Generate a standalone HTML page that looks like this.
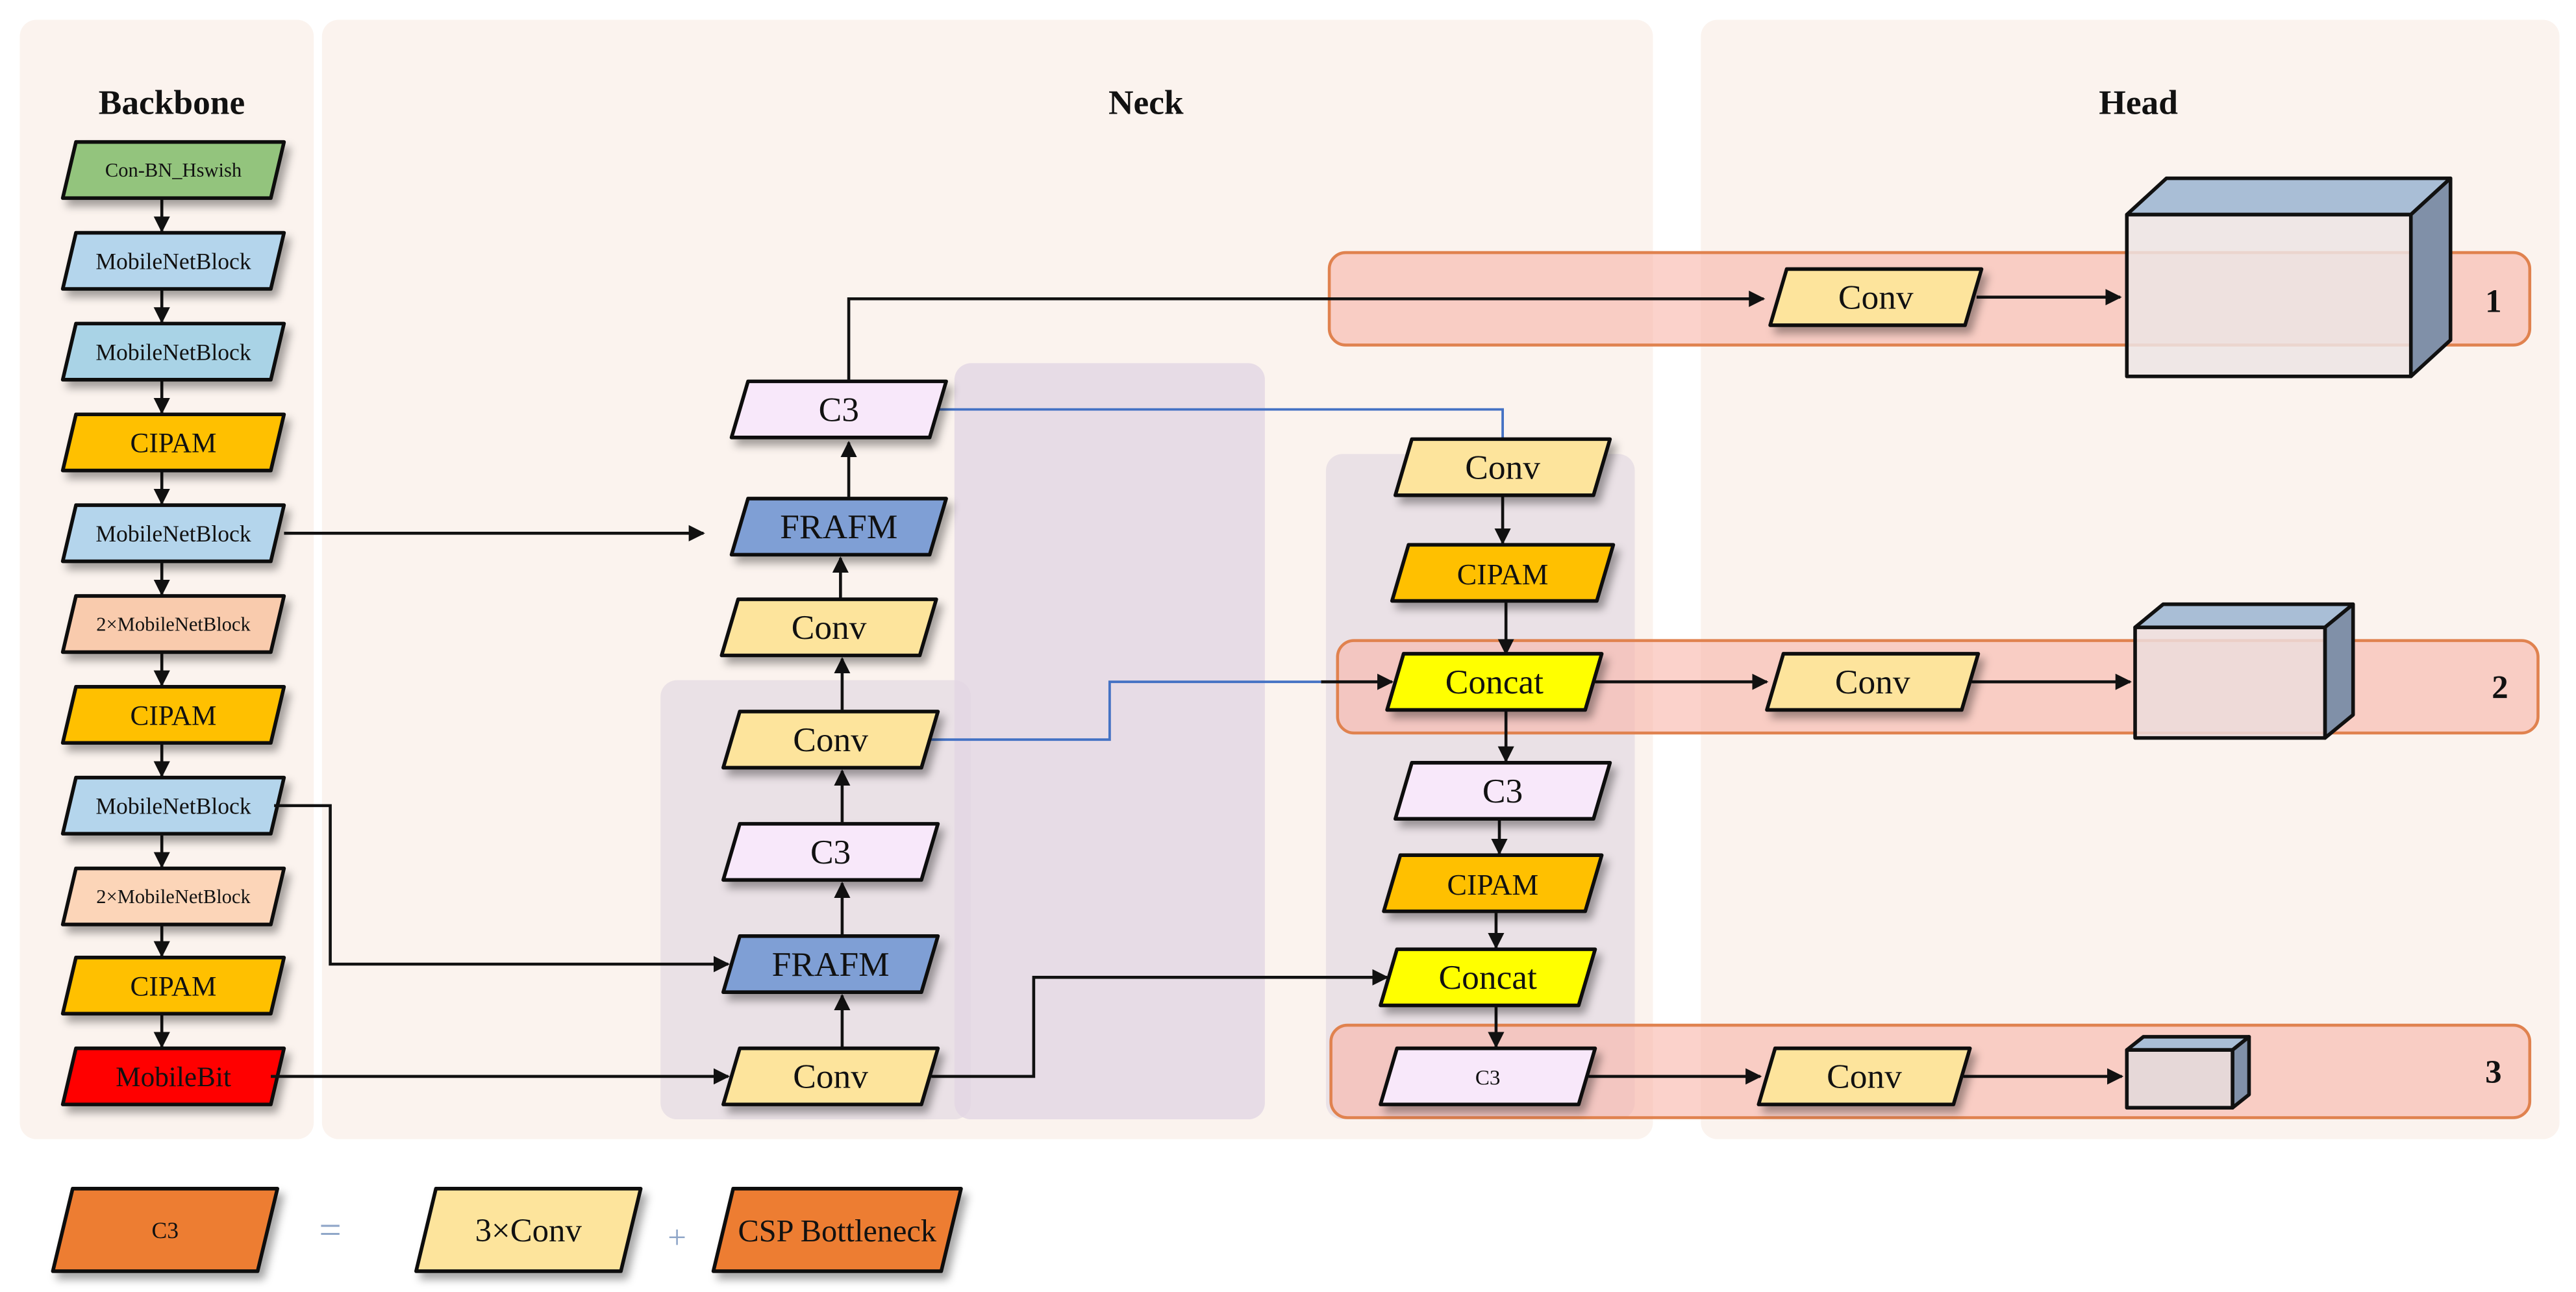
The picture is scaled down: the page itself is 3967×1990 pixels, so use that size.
<!DOCTYPE html>
<html><head><meta charset="utf-8"><style>
html,body{margin:0;padding:0;background:#fff}
svg{display:block}
svg text{font-family:"Liberation Serif",serif;fill:#111;text-anchor:middle}
.b{stroke:#111;stroke-width:2.2;stroke-linejoin:round}
.ln{stroke:#111;stroke-width:1.8;fill:none}
.bl{stroke:#4472c4;stroke-width:1.5;fill:none}
</style></head><body>
<svg width="3967" height="1990" viewBox="0 0 1560 782.6" preserveAspectRatio="none" xmlns="http://www.w3.org/2000/svg" font-family="Liberation Serif, serif">
<defs>
<filter id="sh" x="-20%" y="-30%" width="150%" height="170%"><feDropShadow dx="3" dy="4" stdDeviation="2.5" flood-color="#000" flood-opacity="0.35"/></filter>
<marker id="ar" viewBox="0 0 10 10" refX="9" refY="5" markerWidth="5.5" markerHeight="5.5" orient="auto-start-reverse"><path d="M0,0L10,5L0,10z" fill="#111"/></marker>
</defs>
<rect width="1560" height="783" fill="#fff"/>
<rect x="12" y="12" width="178" height="678" rx="10" fill="#fbf3ee"/>
<rect x="195" y="12" width="806" height="678" rx="10" fill="#fbf3ee"/>
<rect x="1030" y="12" width="520" height="678" rx="10" fill="#fbf3ee"/>
<text x="104" y="69" font-size="21" font-weight="bold">Backbone</text>
<text x="694" y="69" font-size="21" font-weight="bold">Neck</text>
<text x="1295" y="69" font-size="21" font-weight="bold">Head</text>
<rect x="400" y="412" width="188" height="266" rx="10" fill="#e6dce4" opacity="0.8"/>
<rect x="578" y="220" width="188" height="458" rx="10" fill="#e2d6e4" opacity="0.8"/>
<rect x="803" y="275" width="187" height="403" rx="10" fill="#e6dce4" opacity="0.8"/>

<g class="ln">
<line x1="98" y1="121" x2="98" y2="140" marker-end="url(#ar)"/>
<line x1="98" y1="176" x2="98" y2="195" marker-end="url(#ar)"/>
<line x1="98" y1="231" x2="98" y2="250" marker-end="url(#ar)"/>
<line x1="98" y1="286" x2="98" y2="305" marker-end="url(#ar)"/>
<line x1="98" y1="341" x2="98" y2="360" marker-end="url(#ar)"/>
<line x1="98" y1="396" x2="98" y2="415" marker-end="url(#ar)"/>
<line x1="98" y1="451" x2="98" y2="470" marker-end="url(#ar)"/>
<line x1="98" y1="506" x2="98" y2="525" marker-end="url(#ar)"/>
<line x1="98" y1="561" x2="98" y2="579" marker-end="url(#ar)"/>
<line x1="98" y1="615" x2="98" y2="634" marker-end="url(#ar)"/>
</g>
<g class="b" filter="url(#sh)">
<polygon points="46,86 172,86 164,120 38,120" fill="#93c47d"/>
<polygon points="46,141 172,141 164,175 38,175" fill="#b4d5ec"/>
<polygon points="46,196 172,196 164,230 38,230" fill="#a9d3e6"/>
<polygon points="46,251 172,251 164,285 38,285" fill="#ffc000"/>
<polygon points="46,306 172,306 164,340 38,340" fill="#b4d5ec"/>
<polygon points="46,361 172,361 164,395 38,395" fill="#f9cbad"/>
<polygon points="46,416 172,416 164,450 38,450" fill="#ffc000"/>
<polygon points="46,471 172,471 164,505 38,505" fill="#b4d5ec"/>
<polygon points="46,526 172,526 164,560 38,560" fill="#fcd5b8"/>
<polygon points="46,580 172,580 164,614 38,614" fill="#ffc000"/>
<polygon points="46,635 172,635 164,669 38,669" fill="#ff0000"/>
</g>
<text x="105" y="107" font-size="12">Con-BN_Hswish</text>
<text x="105" y="163" font-size="14">MobileNetBlock</text>
<text x="105" y="218" font-size="14">MobileNetBlock</text>
<text x="105" y="274" font-size="17">CIPAM</text>
<text x="105" y="328" font-size="14">MobileNetBlock</text>
<text x="105" y="382" font-size="12">2×MobileNetBlock</text>
<text x="105" y="439" font-size="17">CIPAM</text>
<text x="105" y="493" font-size="14">MobileNetBlock</text>
<text x="105" y="547" font-size="12">2×MobileNetBlock</text>
<text x="105" y="603" font-size="17">CIPAM</text>
<text x="105" y="658" font-size="17">MobileBit</text>

<rect x="805" y="153" width="727" height="56" rx="10" fill="#f9b4a8" fill-opacity="0.6" stroke="#e0824f" stroke-width="1.8"/>
<rect x="810" y="388" width="727" height="56" rx="10" fill="#f9b4a8" fill-opacity="0.6" stroke="#e0824f" stroke-width="1.8"/>
<rect x="806" y="621" width="726" height="56" rx="10" fill="#f9b4a8" fill-opacity="0.6" stroke="#e0824f" stroke-width="1.8"/>
<text x="1510" y="189" font-size="20" font-weight="bold">1</text>
<text x="1514" y="423" font-size="20" font-weight="bold">2</text>
<text x="1510" y="656" font-size="20" font-weight="bold">3</text>

<g class="ln">
<polyline points="514,230 514,181 1068,181" marker-end="url(#ar)"/>
<line x1="1197" y1="180" x2="1284" y2="180" marker-end="url(#ar)"/>
<line x1="172" y1="323" x2="426" y2="323" marker-end="url(#ar)"/>
<line x1="514" y1="301" x2="514" y2="268" marker-end="url(#ar)"/>
<line x1="509" y1="362" x2="509" y2="338" marker-end="url(#ar)"/>
<line x1="510" y1="430" x2="510" y2="399" marker-end="url(#ar)"/>
<line x1="510" y1="498" x2="510" y2="467" marker-end="url(#ar)"/>
<line x1="510" y1="566" x2="510" y2="535" marker-end="url(#ar)"/>
<line x1="510" y1="634" x2="510" y2="603" marker-end="url(#ar)"/>
<polyline points="166,488 200,488 200,584 441,584" marker-end="url(#ar)"/>
<line x1="164" y1="652" x2="441" y2="652" marker-end="url(#ar)"/>
<polyline points="564,652 626,652 626,592 840,592" marker-end="url(#ar)"/>
<line x1="910" y1="301" x2="910" y2="329" marker-end="url(#ar)"/>
<line x1="912" y1="365" x2="912" y2="396" marker-end="url(#ar)"/>
<line x1="912" y1="431" x2="912" y2="461" marker-end="url(#ar)"/>
<line x1="908" y1="497" x2="908" y2="517" marker-end="url(#ar)"/>
<line x1="906" y1="553" x2="906" y2="574" marker-end="url(#ar)"/>
<line x1="906" y1="610" x2="906" y2="634" marker-end="url(#ar)"/>
<line x1="966" y1="413" x2="1070" y2="413" marker-end="url(#ar)"/>
<line x1="1194" y1="413" x2="1290" y2="413" marker-end="url(#ar)"/>
<line x1="962" y1="652" x2="1066" y2="652" marker-end="url(#ar)"/>
<line x1="1189" y1="652" x2="1285" y2="652" marker-end="url(#ar)"/>
<line x1="800" y1="413" x2="843" y2="413" marker-end="url(#ar)"/>
</g>
<g class="bl">
<polyline points="568,248 910,248 910,266"/>
<polyline points="564,448 672,448 672,413 800,413"/>
</g>

<g class="b" filter="url(#sh)">
<polygon points="453,231 573,231 563,265 443,265" fill="#f8e8fa"/>
<polygon points="453,302 573,302 563,336 443,336" fill="#7f9fd5"/>
<polygon points="447,363 567,363 557,397 437,397" fill="#fde49c"/>
<polygon points="448,431 568,431 558,465 438,465" fill="#fde49c"/>
<polygon points="448,499 568,499 558,533 438,533" fill="#f8e8fa"/>
<polygon points="448,567 568,567 558,601 438,601" fill="#7f9fd5"/>
<polygon points="448,635 568,635 558,669 438,669" fill="#fde49c"/>
<polygon points="855,266 975,266 965,300 845,300" fill="#fde49c"/>
<polygon points="853,330 977,330 967,364 843,364" fill="#ffc000"/>
<polygon points="850,396 970,396 960,430 840,430" fill="#ffff00"/>
<polygon points="855,462 975,462 965,496 845,496" fill="#f8e8fa"/>
<polygon points="848,518 970,518 960,552 838,552" fill="#ffc000"/>
<polygon points="846,575 966,575 956,609 836,609" fill="#ffff00"/>
<polygon points="846,635 966,635 956,669 836,669" fill="#f8e8fa"/>
<polygon points="1082,163 1200,163 1190,197 1072,197" fill="#fde49c"/>
<polygon points="1080,396 1198,396 1188,430 1070,430" fill="#fde49c"/>
<polygon points="1075,635 1193,635 1183,669 1065,669" fill="#fde49c"/>
</g>
<text x="508" y="255" font-size="21">C3</text>
<text x="508" y="326" font-size="21">FRAFM</text>
<text x="502" y="387" font-size="21">Conv</text>
<text x="503" y="455" font-size="21">Conv</text>
<text x="503" y="523" font-size="21">C3</text>
<text x="503" y="591" font-size="21">FRAFM</text>
<text x="503" y="659" font-size="21">Conv</text>
<text x="910" y="290" font-size="21">Conv</text>
<text x="910" y="354" font-size="18">CIPAM</text>
<text x="905" y="420" font-size="21">Concat</text>
<text x="910" y="486" font-size="21">C3</text>
<text x="904" y="542" font-size="18">CIPAM</text>
<text x="901" y="599" font-size="21">Concat</text>
<text x="901" y="657" font-size="13">C3</text>
<text x="1136" y="187" font-size="21">Conv</text>
<text x="1134" y="420" font-size="21">Conv</text>
<text x="1129" y="659" font-size="21">Conv</text>

<g class="b" stroke-width="2">
<polygon points="1288,130 1312,108 1484,108 1460,130" fill="#a9bed6"/>
<polygon points="1460,130 1484,108 1484,206 1460,228" fill="#8090a8"/>
<rect x="1288" y="130" width="172" height="98" fill="#ece4e4" fill-opacity="0.85"/>
<polygon points="1293,380 1310,366 1425,366 1408,380" fill="#a9bed6"/>
<polygon points="1408,380 1425,366 1425,433 1408,447" fill="#8090a8"/>
<rect x="1293" y="380" width="115" height="67" fill="#ecdcdc" fill-opacity="0.85"/>
<polygon points="1288,636 1298,628 1362,628 1352,636" fill="#a9bed6"/>
<polygon points="1352,636 1362,628 1362,663 1352,671" fill="#8090a8"/>
<rect x="1288" y="636" width="64" height="35" fill="#e6d8d8"/>
</g>

<g class="b" filter="url(#sh)">
<polygon points="44,720 168,720 156,770 32,770" fill="#ed7d31"/>
<polygon points="264,720 388,720 376,770 252,770" fill="#fde49c"/>
<polygon points="444,720 582,720 570,770 432,770" fill="#ed7d31"/>
</g>
<text x="100" y="750" font-size="14">C3</text>
<text x="320" y="752" font-size="20">3×Conv</text>
<text x="507" y="752" font-size="19">CSP Bottleneck</text>
<text x="200" y="753" font-size="24" style="fill:#8fa6c8">=</text>
<text x="410" y="756" font-size="20" style="fill:#8fa6c8">+</text>
</svg>
</body></html>
